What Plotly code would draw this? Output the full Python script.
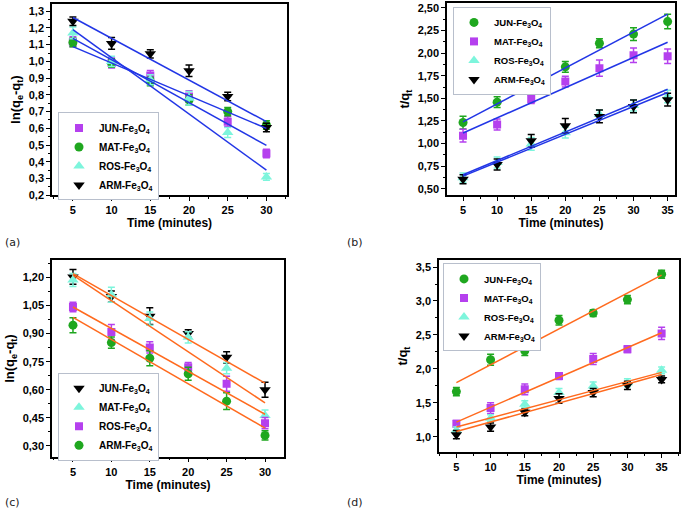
import plotly.graph_objects as go

W, H = 687, 514

# ---------------- data ----------------
series_names = ["JUN", "MAT", "ROS", "ARM"]

# panel (a): pseudo-first-order, ln(qe-qt) vs time
time_a = [5, 10, 15, 20, 25, 30]
a_jun = [1.117, 0.99, 0.915, 0.79, 0.64, 0.45]
a_mat = [1.113, 0.99, 0.88, 0.77, 0.70, 0.62]
a_ros = [1.17, 1.00, 0.89, 0.78, 0.575, 0.31]
a_arm = [1.24, 1.107, 1.045, 0.944, 0.79, 0.605]
a_jun_err = [0.03, 0.03, 0.03, 0.035, 0.03, 0.025]
a_mat_err = [0.025, 0.025, 0.025, 0.03, 0.025, 0.025]
a_ros_err = [0.035, 0.03, 0.03, 0.04, 0.03, 0.02]
a_arm_err = [0.025, 0.035, 0.025, 0.035, 0.025, 0.025]
fit_x_a = [5, 30]
a_jun_fit = [1.137, 0.498]
a_mat_fit = [1.088, 0.60]
a_ros_fit = [1.19, 0.35]
a_arm_fit = [1.262, 0.64]

# panel (b): pseudo-second-order, t/qt vs time
time_b = [5, 10, 15, 20, 25, 30, 35]
b_jun = [1.232, 1.457, 1.594, 1.848, 2.109, 2.21, 2.348]
b_mat = [1.087, 1.21, 1.493, 1.685, 1.833, 1.975, 1.964]
b_ros = [0.623, 0.79, 0.996, 1.12, 1.32, 1.42, 1.52]
b_arm = [0.605, 0.768, 1.03, 1.196, 1.30, 1.41, 1.485]
b_jun_err = [0.07, 0.06, 0.06, 0.06, 0.05, 0.07, 0.08]
b_mat_err = [0.07, 0.06, 0.05, 0.06, 0.09, 0.08, 0.08]
b_ros_err = [0.05, 0.06, 0.07, 0.06, 0.05, 0.06, 0.07]
b_arm_err = [0.05, 0.06, 0.07, 0.08, 0.07, 0.07, 0.07]
fit_x_b = [5, 35]
b_jun_fit = [1.24, 2.43]
b_mat_fit = [1.116, 2.12]
b_ros_fit = [0.655, 1.60]
b_arm_fit = [0.64, 1.565]

# panel (c): pseudo-first-order (second set)
time_c = [5, 10, 15, 20, 25, 30]
c_jun = [1.203, 1.098, 0.993, 0.90, 0.773, 0.60]
c_mat = [1.186, 1.107, 0.98, 0.88, 0.715, 0.462]
c_ros = [1.042, 0.908, 0.826, 0.72, 0.632, 0.421]
c_arm = [0.945, 0.852, 0.768, 0.685, 0.539, 0.356]
c_jun_err = [0.04, 0.03, 0.045, 0.02, 0.03, 0.04]
c_mat_err = [0.035, 0.04, 0.035, 0.03, 0.03, 0.03]
c_ros_err = [0.025, 0.04, 0.03, 0.025, 0.04, 0.03]
c_arm_err = [0.04, 0.03, 0.04, 0.035, 0.045, 0.025]
fit_x_c = [5, 30]
c_jun_fit = [1.22, 0.635]
c_mat_fit = [1.212, 0.53]
c_ros_fit = [1.042, 0.469]
c_arm_fit = [0.987, 0.395]

# panel (d): pseudo-second-order (second set)
time_d = [5, 10, 15, 20, 25, 30, 35]
d_jun = [1.667, 2.136, 2.267, 2.717, 2.823, 3.021, 3.394]
d_mat = [1.193, 1.425, 1.70, 1.895, 2.146, 2.291, 2.523]
d_ros = [1.097, 1.275, 1.483, 1.653, 1.75, 1.798, 1.98]
d_arm = [1.034, 1.145, 1.363, 1.566, 1.653, 1.759, 1.846]
d_jun_err = [0.06, 0.08, 0.07, 0.07, 0.05, 0.06, 0.06]
d_mat_err = [0.05, 0.08, 0.08, 0.05, 0.08, 0.05, 0.09]
d_ros_err = [0.05, 0.05, 0.05, 0.06, 0.06, 0.06, 0.05]
d_arm_err = [0.06, 0.06, 0.05, 0.07, 0.06, 0.06, 0.05]
fit_x_d = [5, 35]
d_jun_fit = [1.798, 3.38]
d_mat_fit = [1.218, 2.533]
d_ros_fit = [1.145, 1.95]
d_arm_fit = [1.08, 1.92]

# ---------------- styles ----------------
PURPLE = "#b540ee"
GREEN = "#1fa71f"
CYAN = "#7df5dc"
BLACK = "#000000"
BLUE = "#2236e6"
ORANGE = "#ff6a1e"
FONT = "Liberation Sans"

def lab(name):
    return f"{name}-Fe<sub>3</sub>O<sub>4</sub>"

fig = go.Figure()

def add_panel(xref, yref, legend, xs, ys_list, errs, styles, names, fit_x, fits, line_color):
    for ys, er, (sym, col, sz), nm in zip(ys_list, errs, styles, names):
        fig.add_trace(go.Scatter(
            x=xs, y=ys, mode="markers", name=lab(nm),
            marker=dict(symbol=sym, size=sz, color=col, line=dict(width=0)),
            error_y=dict(type="data", array=er, color=col, thickness=1.5, width=3.5),
            xaxis=xref, yaxis=yref, legend=legend))
    for f in fits:
        fig.add_trace(go.Scatter(
            x=fit_x, y=f, mode="lines", line=dict(color=line_color, width=1.5),
            showlegend=False, xaxis=xref, yaxis=yref, hoverinfo="skip"))

SQ = ("square", PURPLE, 8)
CI = ("circle", GREEN, 9)
TU = ("triangle-up", CYAN, 10)
TD = ("triangle-down", BLACK, 10)

# (a) legend order JUN sq, MAT circle, ROS tri, ARM down
add_panel("x", "y", "legend", time_a, [a_jun, a_mat, a_ros, a_arm],
          [a_jun_err, a_mat_err, a_ros_err, a_arm_err], [SQ, CI, TU, TD], series_names,
          fit_x_a, [a_jun_fit, a_mat_fit, a_ros_fit, a_arm_fit], BLUE)
# (b) JUN circle, MAT square, ROS tri, ARM down
add_panel("x2", "y2", "legend2", time_b, [b_jun, b_mat, b_ros, b_arm],
          [b_jun_err, b_mat_err, b_ros_err, b_arm_err], [CI, SQ, TU, TD], series_names,
          fit_x_b, [b_jun_fit, b_mat_fit, b_ros_fit, b_arm_fit], BLUE)
# (c) JUN down, MAT tri, ROS square, ARM circle
add_panel("x3", "y3", "legend3", time_c, [c_jun, c_mat, c_ros, c_arm],
          [c_jun_err, c_mat_err, c_ros_err, c_arm_err], [TD, TU, SQ, CI], series_names,
          fit_x_c, [c_jun_fit, c_mat_fit, c_ros_fit, c_arm_fit], ORANGE)
# (d) JUN circle, MAT square, ROS tri, ARM down
add_panel("x4", "y4", "legend4", time_d, [d_jun, d_mat, d_ros, d_arm],
          [d_jun_err, d_mat_err, d_ros_err, d_arm_err], [CI, SQ, TU, TD], series_names,
          fit_x_d, [d_jun_fit, d_mat_fit, d_ros_fit, d_arm_fit], ORANGE)

def px_dom_x(a, b):
    return [a / W, b / W]

def px_dom_y(top, bottom):
    return [1 - bottom / H, 1 - top / H]

tickfont = dict(family=FONT, size=11, color="black", weight="bold")
xtitlefont = dict(family=FONT, size=12, color="black", weight="bold")
ytitlefont = dict(family=FONT, size=13, color="black", weight="bold")

def xaxis(dom, rng, anchor, maxv):
    return dict(domain=dom, range=rng, anchor=anchor,
                tickmode="array", tickvals=list(range(5, maxv + 1, 5)),
                ticks="outside", ticklen=4, tickwidth=1.3, tickcolor="black",
                minor=dict(ticks="outside", ticklen=2, dtick=2.5, tick0=0, tickcolor="black"),
                showline=True, linecolor="black", linewidth=1.5, mirror=True,
                showgrid=False, zeroline=False, tickfont=tickfont,
                title=dict(text="Time (minutes)", font=xtitlefont, standoff=2))

def yaxis(dom, rng, anchor, dtick, tick0, fmt, title, mdt):
    return dict(domain=dom, range=rng, anchor=anchor,
                dtick=dtick, tick0=tick0, tickformat=fmt,
                ticks="outside", ticklen=4, tickwidth=1.3, tickcolor="black",
                minor=dict(ticks="outside", ticklen=2, dtick=mdt, tick0=tick0, tickcolor="black"),
                showline=True, linecolor="black", linewidth=1.5, mirror=True,
                showgrid=False, zeroline=False, tickfont=tickfont,
                title=dict(text=title, font=ytitlefont, standoff=5))

ln_title = "ln(q<sub>e</sub>-q<sub>t</sub>)"
tq_title = "t/q<sub>t</sub>"

def legend_box(x0, y0, fs):
    return dict(x=x0 / W, y=1 - y0 / H, xanchor="left", yanchor="top",
                bordercolor="#b8bfcc", borderwidth=1, bgcolor="white",
                font=dict(family=FONT, size=fs, color="black", weight="bold"),
                itemwidth=30, tracegroupgap=0)

layout = dict(
    width=W, height=H, margin=dict(l=0, r=0, t=0, b=0),
    paper_bgcolor="white", plot_bgcolor="white",
    separators=",.", showlegend=True,
    xaxis=xaxis(px_dom_x(52, 287), [2.3, 32.66], "y", 30),
    yaxis=yaxis(px_dom_y(3, 197), [0.2, 1.343], "x", 0.1, 0.2, ".1f", ln_title, 0.05),
    xaxis2=xaxis(px_dom_x(447, 675), [2.65, 36.08], "y2", 35),
    yaxis2=yaxis(px_dom_y(2, 197), [0.4275, 2.554], "x2", 0.25, 0.5, ".2f", tq_title, 0.125),
    xaxis3=xaxis(px_dom_x(52, 284), [2.27, 32.47], "y3", 30),
    yaxis3=yaxis(px_dom_y(263, 462), [0.242, 1.291], "x3", 0.15, 0.3, ".2f", ln_title, 0.075),
    xaxis4=xaxis(px_dom_x(439, 679), [2.46, 37.54], "y4", 35),
    yaxis4=yaxis(px_dom_y(263, 457), [0.782, 3.597], "x4", 0.5, 1.0, ".1f", tq_title, 0.25),
    legend=legend_box(58, 113, 10),
    legend2=legend_box(453, 6, 9.5),
    legend3=legend_box(58, 377, 10),
    legend4=legend_box(443, 266, 9.5),
)
fig.update_layout(**layout)

panel_labels = [("(a)", 3, 245), ("(b)", 345, 245), ("(c)", 3, 508), ("(d)", 345, 508)]
for txt, px, py in panel_labels:
    fig.add_annotation(text=txt, x=px / W, y=1 - py / H, xref="paper", yref="paper",
                       xanchor="left", yanchor="middle", showarrow=False,
                       font=dict(family="DejaVu Sans", size=11, color="#222"))

fig.write_html("out.html")
